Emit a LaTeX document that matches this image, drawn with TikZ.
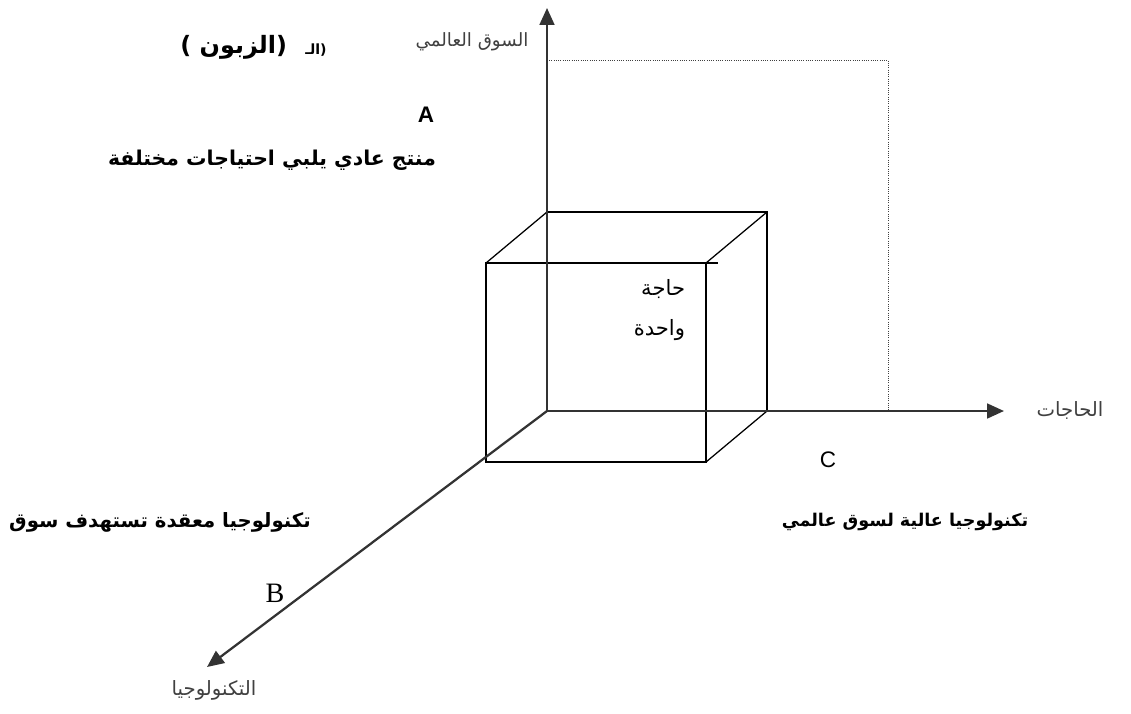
\documentclass[tikz,border=0pt]{standalone}
\usepackage{fontspec}
\setmainfont{Liberation Serif}
\newfontfamily\arabicfont[Script=Arabic]{DejaVu Sans}
\newfontfamily\latinsans{Liberation Sans}
\TeXXeTstate=1
\usetikzlibrary{arrows.meta}
\definecolor{caxis}{HTML}{333333}
\definecolor{clabel}{HTML}{404040}
\tikzset{
  every picture/.style={x=0.025cm, y=-0.025cm},
  axis/.style={caxis, line width=1.6pt, -{Triangle[length=12pt,width=10.5pt]}},
  edge/.style={line width=0.9pt},
  guide/.style={clabel, densely dotted, line width=0.6pt},
  boldar/.style={font=\arabicfont\bfseries\fontsize{14}{16}\selectfont},
  axlabel/.style={clabel, font=\arabicfont\fontsize{13}{15}\selectfont},
  letter/.style={font=\latinsans\fontsize{16}{18}\selectfont},
}
\newcommand{\rtl}[1]{\beginR #1\endR}
\def\dx{-61}
\def\dy{51}

\begin{document}
\begin{tikzpicture}
  \path[use as bounding box] (0,0) rectangle (1131,713);
  % axes
  \coordinate (O) at (547,411);
  \coordinate (topend) at (547,8);
  \coordinate (rightend) at (1004,411);
  \coordinate (diagend) at (207,667);
  % dotted frame of the world market
  \coordinate (g1) at (549,60);
  \coordinate (g2) at (888,60);
  \coordinate (g3) at (888,411);
  \draw[guide] (g1) -- (g2) -- (g3);
  % cube: back face, front face
  \coordinate (b1) at (547,212);
  \coordinate (b2) at (767,212);
  \coordinate (b3) at (767,411);
  \coordinate (f0) at ([shift={(\dx,\dy)}]O);
  \coordinate (f1) at ([shift={(\dx,\dy)}]b1);
  \coordinate (f2) at ([shift={(\dx,\dy)}]b2);
  \coordinate (f3) at ([shift={(\dx,\dy)}]b3);
  \draw[edge] (b1) -- (b2) -- (b3);
  \draw[edge] (f0) -- (f1) -- (f2) -- (f3) -- cycle;
  \draw[edge] (f2) -- ++(12,0);
  \draw[edge] (f1) -- (b1);
  \draw[edge] (f2) -- (b2);
  \draw[edge] (f3) -- (b3);
  \draw[axis] (O) -- (topend);
  \draw[axis] (O) -- (rightend);
  \draw[axis] (O) -- (diagend);
  % labels
  \node[font=\arabicfont\bfseries\fontsize{17}{20}\selectfont, anchor=east] (client) at (292,47) {\rtl{(الزبون )}};
  \node[font=\arabicfont\bfseries\fontsize{10}{12}\selectfont] (clientcut) at (316,50) {\rtl{(الـ}};
  \node[axlabel] (worldlbl) at (472,42) {\rtl{السوق العالمي}};
  \node[letter, font=\latinsans\bfseries\fontsize{16}{18}\selectfont] (A) at (426,115) {A};
  \node[boldar, font=\arabicfont\bfseries\fontsize{14.5}{16}\selectfont] (Atxt) at (272,160) {\rtl{منتج عادي يلبي احتياجات مختلفة}};
  \node[font=\arabicfont\fontsize{15}{28}\selectfont, align=right, anchor=east] (need) at (690,310) {\rtl{حاجة}\\\rtl{واحدة}};
  \node[axlabel, font=\arabicfont\fontsize{14}{16}\selectfont] (needslbl) at (1070,410) {\rtl{الحاجات}};
  \node[letter] (C) at (828,460) {C};
  \node[boldar, font=\arabicfont\bfseries\fontsize{12.5}{15}\selectfont] (Ctxt) at (905,522) {\rtl{تكنولوجيا عالية لسوق عالمي}};
  \node[boldar] (Btxt) at (160,522) {\rtl{تكنولوجيا معقدة تستهدف سوق}};
  \node[font=\fontsize{20}{22}\selectfont] (B) at (275,593) {B};
  \node[axlabel, font=\arabicfont\fontsize{14}{16}\selectfont] (techlbl) at (214,690) {\rtl{التكنولوجيا}};
\end{tikzpicture}
\end{document}
